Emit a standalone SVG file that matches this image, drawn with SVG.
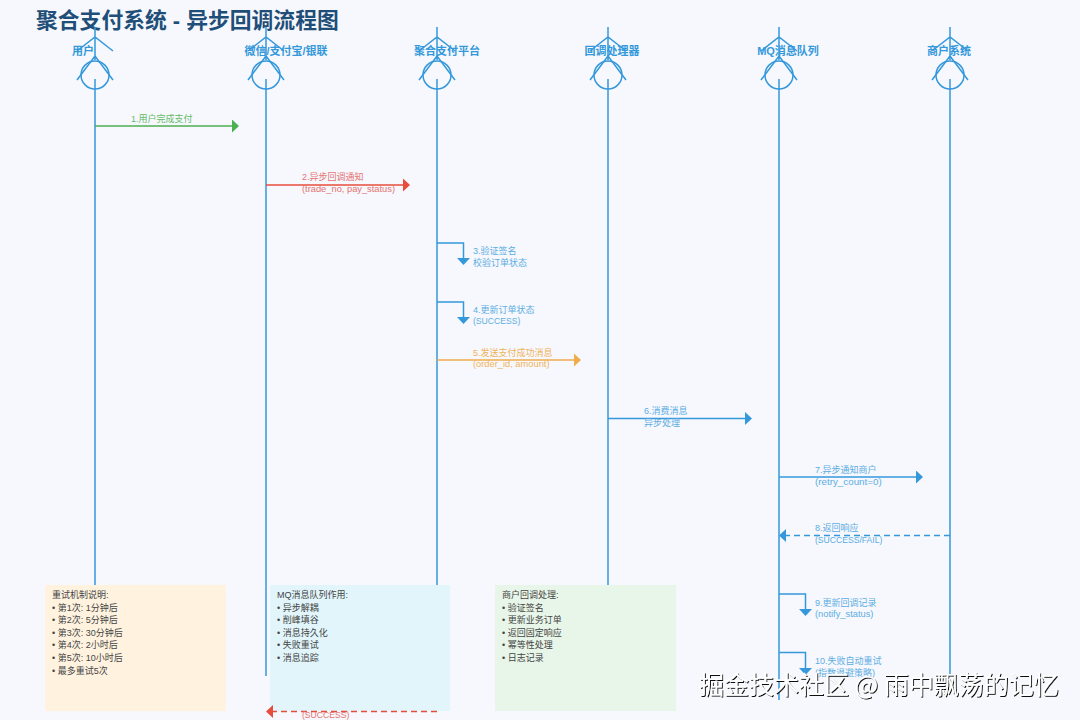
<svg xmlns="http://www.w3.org/2000/svg" width="1080" height="720" viewBox="0 0 1080 720">
<defs>
<style>
text{font-family:"Liberation Sans","Noto Sans CJK SC",sans-serif}
.title{font-size:21.8px;font-weight:700;fill:#1f4e79}
.actor{font-size:11px;font-weight:700;fill:#3498db;text-anchor:middle}
.fig{fill:none;stroke:#3498db;stroke-width:1.5}
.life{stroke:#3498db;stroke-width:1.5;fill:none}
.m{font-size:9px}
.l{font-size:9.3px}
.u{font-size:8.6px}
.note{font-size:9px;fill:#444}
.blue{fill:#5dade2}.green{fill:#66bb6a}.red{fill:#e57373}.orange{fill:#f0b35a}
.ln{fill:none;stroke-width:1.5}
</style>
<marker id="ab" markerUnits="userSpaceOnUse" markerWidth="8" markerHeight="13" refX="1" refY="6.5" orient="auto"><path d="M0 0L7 6.5L0 13z" fill="#3498db"/></marker>
<marker id="ag" markerUnits="userSpaceOnUse" markerWidth="8" markerHeight="13" refX="1" refY="6.5" orient="auto"><path d="M0 0L7 6.5L0 13z" fill="#4caf50"/></marker>
<marker id="ar" markerUnits="userSpaceOnUse" markerWidth="8" markerHeight="13" refX="1" refY="6.5" orient="auto"><path d="M0 0L7 6.5L0 13z" fill="#e74c3c"/></marker>
<marker id="ao" markerUnits="userSpaceOnUse" markerWidth="8" markerHeight="13" refX="1" refY="6.5" orient="auto"><path d="M0 0L7 6.5L0 13z" fill="#f0ad4e"/></marker>
<filter id="sh" x="-5%" y="-20%" width="110%" height="140%"><feDropShadow dx="1" dy="1" stdDeviation="0.5" flood-color="#111" flood-opacity="1"/></filter>
<g id="fg"><path class="fig" d="M0 27V60M-18 51L0 37L18 51M-18 80L0 56L18 80"/><circle class="fig" cx="0" cy="75" r="14"/></g>
</defs>
<rect width="1080" height="720" fill="#f6f8fd"/>
<text class="title" x="36" y="28">聚合支付系统 - 异步回调流程图</text>
<g id="connectors">
<path class="life" d="M95 79V585M266 79V676M437 79V585M608 79V585M779 79V700M950 79V676"/>
<path class="ln" stroke="#4caf50" d="M95 126H233" marker-end="url(#ag)"/>
<path class="ln" stroke="#e74c3c" d="M266 185H404" marker-end="url(#ar)"/>
<path class="ln" stroke="#3498db" d="M437 243H463.500V259" marker-end="url(#ab)"/>
<path class="ln" stroke="#3498db" d="M437 302H463.500V318" marker-end="url(#ab)"/>
<path class="ln" stroke="#f0ad4e" d="M437 360H575" marker-end="url(#ao)"/>
<path class="ln" stroke="#3498db" d="M608 418.500H746" marker-end="url(#ab)"/>
<path class="ln" stroke="#3498db" d="M779 477H917" marker-end="url(#ab)"/>
<path class="ln" stroke="#3498db" stroke-dasharray="6 4" d="M950 535.500H785" marker-end="url(#ab)"/>
<path class="ln" stroke="#3498db" d="M779 594H805.500V610" marker-end="url(#ab)"/>
<path class="ln" stroke="#3498db" d="M779 652.500H805.500V669" marker-end="url(#ab)"/>
</g>
<g id="actor-user"><use href="#fg" x="95"/><text class="actor" x="83" y="55">用户</text></g>
<g id="actor-channel"><use href="#fg" x="266"/><text class="actor" x="286" y="55">微信/支付宝/银联</text></g>
<g id="actor-platform"><use href="#fg" x="437"/><text class="actor" x="447" y="55">聚合支付平台</text></g>
<g id="actor-handler"><use href="#fg" x="608"/><text class="actor" x="612" y="55">回调处理器</text></g>
<g id="actor-mq"><use href="#fg" x="779"/><text class="actor" x="788" y="55">MQ消息队列</text></g>
<g id="actor-merchant"><use href="#fg" x="950"/><text class="actor" x="949" y="55">商户系统</text></g>
<g id="labels">
<text class="m green" x="131" y="122">1.用户完成支付</text>
<text class="m red" x="302" y="180">2.异步回调通知</text><text class="l red" x="302" y="192">(trade_no, pay_status)</text>
<text class="m blue" x="473" y="254">3.验证签名</text><text class="m blue" x="473" y="266">校验订单状态</text>
<text class="m blue" x="473" y="313">4.更新订单状态</text><text class="u blue" x="473" y="324">(SUCCESS)</text>
<text class="m orange" x="473" y="356">5.发送支付成功消息</text><text class="l orange" x="473" y="367">(order_id, amount)</text>
<text class="m blue" x="644" y="414">6.消费消息</text><text class="m blue" x="644" y="426">异步处理</text>
<text class="m blue" x="815" y="473">7.异步通知商户</text><text class="l blue" x="815" y="485" style="font-size:9.8px">(retry_count=0)</text>
<text class="m blue" x="815" y="531">8.返回响应</text><text class="u blue" x="815" y="543">(SUCCESS/FAIL)</text>
<text class="m blue" x="815" y="606">9.更新回调记录</text><text class="l blue" x="815" y="617">(notify_status)</text>
<text class="m blue" x="815" y="664">10.失败自动重试</text><text class="m blue" x="815" y="676">(指数退避策略)</text>
</g>
<g id="note-retry"><rect x="45" y="585" width="181" height="126" fill="#fff3e0"/>
<text class="note" x="52" y="598">重试机制说明:</text><text class="note" x="52" y="611">• 第1次: 1分钟后</text><text class="note" x="52" y="623">• 第2次: 5分钟后</text><text class="note" x="52" y="636">• 第3次: 30分钟后</text><text class="note" x="52" y="648">• 第4次: 2小时后</text><text class="note" x="52" y="661">• 第5次: 10小时后</text><text class="note" x="52" y="674">• 最多重试5次</text></g>
<g id="note-mq"><rect x="270" y="585" width="180" height="126" fill="#e1f5fb"/>
<text class="note" x="277" y="598">MQ消息队列作用:</text><text class="note" x="277" y="611">• 异步解耦</text><text class="note" x="277" y="623">• 削峰填谷</text><text class="note" x="277" y="636">• 消息持久化</text><text class="note" x="277" y="648">• 失败重试</text><text class="note" x="277" y="661">• 消息追踪</text></g>
<g id="note-merchant"><rect x="495" y="585" width="181" height="126" fill="#e8f5e9"/>
<text class="note" x="502" y="598">商户回调处理:</text><text class="note" x="502" y="611">• 验证签名</text><text class="note" x="502" y="623">• 更新业务订单</text><text class="note" x="502" y="636">• 返回固定响应</text><text class="note" x="502" y="648">• 幂等性处理</text><text class="note" x="502" y="661">• 日志记录</text></g>
<g id="reply-success">
<path class="ln" stroke="#e74c3c" stroke-dasharray="6 4" d="M437 711.500H272" marker-end="url(#ar)"/>
<text class="u red" x="302" y="718">(SUCCESS)</text>
</g>
<text x="699" y="694" font-size="25" fill="#fff" filter="url(#sh)" style="font-family:'Noto Sans CJK SC',sans-serif">掘金技术社区 @ 雨中飘荡的记忆</text>
</svg>
